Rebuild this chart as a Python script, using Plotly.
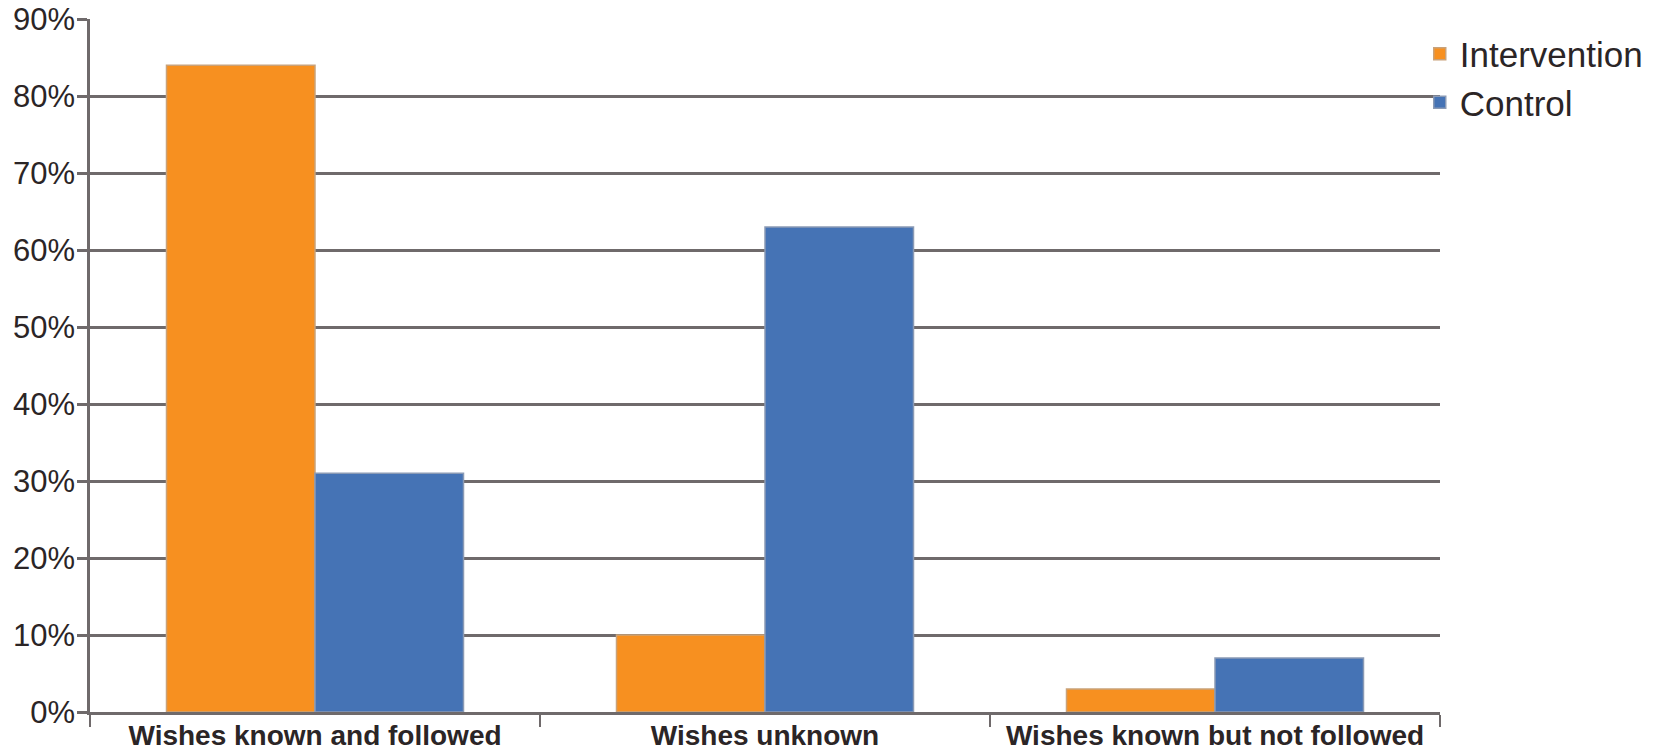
import plotly.graph_objects as go

categories = ["Wishes known and followed", "Wishes unknown", "Wishes known but not followed"]
intervention = [0.84, 0.10, 0.03]
control = [0.31, 0.63, 0.07]

grid_col = "#6f6a6b"
text_col = "#2b2526"

fig = go.Figure()
fig.add_trace(go.Bar(
    name="Intervention", x=categories, y=intervention,
    marker=dict(color="#F79020", line=dict(color="#c9a27a", width=1.5)),
))
fig.add_trace(go.Bar(
    name="Control", x=categories, y=control,
    marker=dict(color="#4573B5", line=dict(color="#8a9ab5", width=1.5)),
))

fig.update_layout(
    width=1667, height=754,
    margin=dict(l=90, r=227, t=19, b=42, autoexpand=False),
    paper_bgcolor="white", plot_bgcolor="white",
    barmode="group", bargap=0.34, bargroupgap=0,
    font=dict(family="Liberation Sans, Arial, sans-serif", color=text_col),
    legend=dict(
        x=0.985, xanchor="left", y=0.992, yanchor="top",
        font=dict(size=35, color=text_col),
        itemwidth=30, tracegroupgap=0,
        bgcolor="rgba(0,0,0,0)",
    ),
    showlegend=True,
)
fig.update_yaxes(
    range=[0, 0.9], dtick=0.1, tickformat=".0%",
    showgrid=True, gridcolor=grid_col, gridwidth=2.5,
    showline=True, linecolor=grid_col, linewidth=2.5,
    ticks="outside", ticklen=10, tickcolor=grid_col, tickwidth=2.5,
    tickfont=dict(size=31, color=text_col),
    ticklabelstandoff=-4,
    zeroline=False, automargin=False,
)
fig.update_xaxes(
    showline=True, linecolor=grid_col, linewidth=2.5,
    ticks="outside", ticklen=12, tickcolor=grid_col, tickwidth=2,
    tickson="boundaries", automargin=False, tickangle=0,
    ticklabelstandoff=-3,
    tickfont=dict(size=28, color=text_col, family="Liberation Sans, Arial, sans-serif", weight="bold"),
)

fig.write_html("out.html")
